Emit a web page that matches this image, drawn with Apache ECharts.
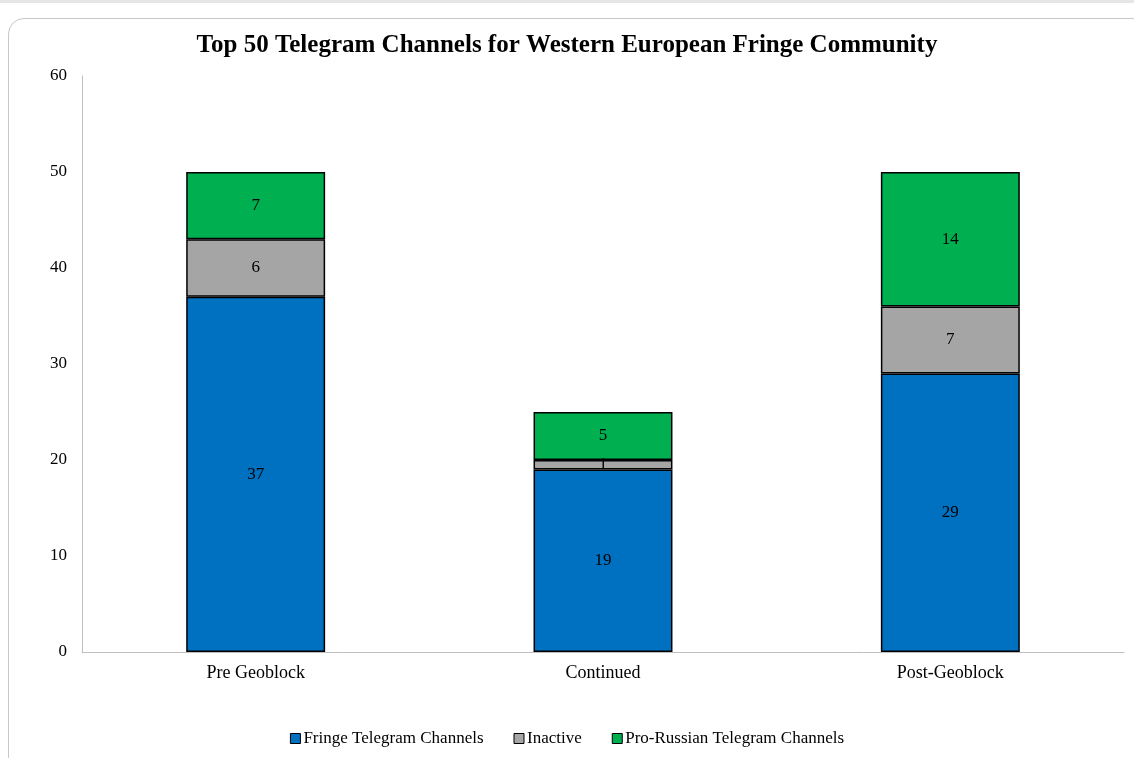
<!DOCTYPE html>
<html>
<head>
<meta charset="utf-8">
<script src="https://cdn.jsdelivr.net/npm/echarts@6/dist/echarts.min.js"></script>
<style>
html,body{margin:0;padding:0;width:1134px;height:758px;overflow:hidden;background:#fff;}
#strip{position:absolute;left:0;top:0;width:1134px;height:3px;background:#e6e6e6;}
#frame{position:absolute;left:8px;top:18px;width:1140px;height:760px;border:1px solid #c8c8c8;border-radius:16px;box-sizing:border-box;}
#chart{position:absolute;left:0;top:0;width:1134px;height:758px;}
</style>
</head>
<body>
<div id="strip"></div>
<div id="frame"></div>
<div id="chart"></div>
<script>
const categories = ['Pre Geoblock', 'Continued', 'Post-Geoblock'];
const fringe = [37, 19, 29];
const inactive = [6, 1, 7];
const proRussian = [7, 5, 14];
const yTicks = { min: 0, max: 60, interval: 10 };

const font = '"Liberation Serif", "Times New Roman", serif';
const chart = echarts.init(document.getElementById('chart'));
function mk(name, data, color) {
  return {
    name: name, type: 'bar', stack: 'total', data: data, barWidth: '40%',
    itemStyle: { color: color, borderColor: '#000', borderWidth: 1.5 },
    label: { show: true, position: 'inside', color: '#000', fontFamily: font, fontSize: 17 }
  };
}
chart.setOption({
  backgroundColor: 'transparent',
  animation: false,
  title: {
    text: 'Top 50 Telegram Channels for Western European Fringe Community',
    left: 'center', top: 28,
    textStyle: { fontFamily: font, fontWeight: 'bold', fontSize: 25, color: '#000' }
  },
  legend: {
    bottom: 6, left: 'center', itemWidth: 10, itemHeight: 10, itemGap: 30,
    icon: 'rect',
    textStyle: { fontFamily: font, fontSize: 17, color: '#000', padding: [0, 0, 0, -2] },
    itemStyle: { borderColor: '#000', borderWidth: 1 },
    data: ['Fringe Telegram Channels', 'Inactive', 'Pro-Russian Telegram Channels']
  },
  grid: { left: 82, right: 10, top: 76, bottom: 106, containLabel: false },
  xAxis: {
    type: 'category', data: categories,
    axisLine: { lineStyle: { color: '#bfbfbf', width: 1 } },
    axisTick: { show: false },
    axisLabel: { fontFamily: font, fontSize: 18, color: '#000', margin: 12 }
  },
  yAxis: {
    type: 'value', min: yTicks.min, max: yTicks.max, interval: yTicks.interval,
    axisLine: { show: true, lineStyle: { color: '#bfbfbf', width: 1 } },
    axisTick: { show: false },
    splitLine: { show: false },
    axisLabel: { fontFamily: font, fontSize: 17, color: '#000', margin: 15 }
  },
  series: [
    mk('Fringe Telegram Channels', fringe, '#0070c0'),
    mk('Inactive', inactive, '#a5a5a5'),
    mk('Pro-Russian Telegram Channels', proRussian, '#00b050')
  ]
});
</script>
</body>
</html>
